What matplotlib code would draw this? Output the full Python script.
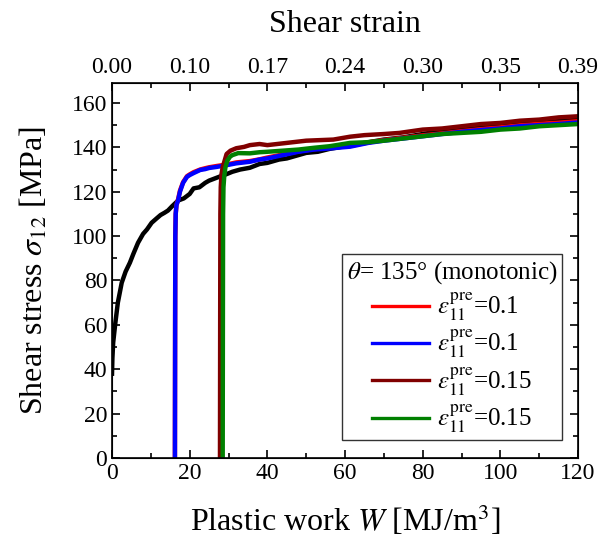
import matplotlib
matplotlib.use("Agg")
import matplotlib.pyplot as plt
from matplotlib.ticker import MultipleLocator

plt.rcParams["font.family"] = ["Liberation Serif", "DejaVu Serif"]
plt.rcParams["mathtext.fontset"] = "stix"

# ── data (W in MJ/m^3, stress in MPa) ─────────────────────────────────────
W_mono = [0, 0.1, 0.3, 0.8, 1.5, 2.5, 3.5, 4.6, 5.5, 6.7, 8, 9, 10.2, 11.5, 12.5,
          13.5, 14.4, 15.5, 17, 18.5, 20, 21, 22.5, 24, 25, 26.5, 28, 29.6, 31, 33,
          35.5, 38, 40, 43, 45, 48, 50, 53, 56, 60, 65, 70, 75, 80, 85, 90, 95,
          100, 105, 110, 115, 120]
S_mono = [38, 45, 52, 60, 70, 79, 84, 88, 92, 97, 101, 103, 106, 108, 109.5,
          110.5, 111.5, 113.5, 116, 117, 119, 121.5, 122, 124, 125, 126, 127, 128,
          129, 130, 130.8, 132.5, 133, 134.5, 135, 136.5, 137.5, 138, 139.3, 140.5,
          142, 143.5, 144.5, 146, 147.5, 148.5, 149.5, 150.5, 151.5, 152, 152.5, 153]

W_red = [16.2, 16.25, 16.3, 16.4, 16.6, 17, 17.5, 18.3, 19.3, 20, 21, 22.7, 24, 25,
         27, 29.6, 32, 35.5, 38, 40, 44, 48, 52, 56, 61.3, 66, 70, 75, 80, 85, 90,
         95, 100, 105, 110, 115, 120]
S_red = [0, 60, 100, 110, 114, 116.5, 120.5, 124.3, 127, 127.8, 128.8, 130, 130.6,
         131, 131.6, 132.3, 133.2, 133.8, 134.6, 135.4, 136.8, 138.2, 139.2, 139.9,
         140.6, 142.2, 143.3, 144.3, 145.4, 146.3, 147.3, 148.2, 149, 149.9, 150.6,
         151.1, 151.8]

W_blue = [16.2, 16.25, 16.3, 16.4, 16.6, 17, 17.5, 18.3, 19.3, 20, 21, 22.7, 24, 25,
          27, 29.6, 32, 35.5, 38, 40, 44, 48, 52, 56, 61.3, 66, 70, 75, 80, 85, 90,
          95, 100, 105, 110, 115, 120]
S_blue = [0, 60, 100, 110, 114, 116, 120, 124, 126.7, 127.5, 128.4, 129.8, 130.2,
          130.7, 131.2, 132, 132.8, 133.5, 134.5, 135, 136.5, 138, 139, 139.5, 140.3,
          142, 143, 144, 145, 146, 147, 147.8, 148.5, 149.5, 150, 150.5, 151.2]

W_dred = [27.8, 27.85, 27.9, 28.0, 28.2, 28.5, 29, 29.5, 30.5, 32, 34, 35.5, 38, 40,
          45, 50, 57, 61.3, 65, 70, 74, 80, 85, 90, 95, 100, 105, 110, 115, 120]
S_dred = [0, 60, 110, 122, 128, 131, 134, 137, 138.5, 139.6, 140.2, 141, 141.5, 141,
          142, 143, 143.5, 144.8, 145.5, 146, 146.5, 148, 148.5, 149.5, 150.5, 151,
          152, 152.5, 153.5, 154]

W_green = [28.5, 28.55, 28.6, 28.7, 28.9, 29.2, 29.7, 30.4, 31, 32.5, 35.5, 38, 40,
           44, 48, 52, 56, 61.3, 65.6, 70, 75, 80, 85, 90, 95, 100, 105, 110, 115, 120]
S_green = [0, 60, 110, 122, 127, 131, 134, 135.8, 136.5, 137.4, 137.3, 137.8, 138,
           138.5, 139, 139.8, 140.5, 142, 142.3, 143, 144, 145, 146, 146.5, 147, 148,
           148.5, 149.5, 150, 150.5]

LABELS = [r"$\varepsilon_{11}^{\rm pre}$=0.1", r"$\varepsilon_{11}^{\rm pre}$=0.1",
          r"$\varepsilon_{11}^{\rm pre}$=0.15", r"$\varepsilon_{11}^{\rm pre}$=0.15"]
TOP_TICKS = ["0.00", "0.10", "0.17", "0.24", "0.30", "0.35", "0.39"]

fig = plt.figure(figsize=(5.99, 5.41), dpi=100)
ax = fig.add_axes([0.187, 0.1534, 0.778, 0.6932])

LW = 3.2
ax.plot(W_mono, S_mono, color="black", lw=LW)
ax.plot(W_red, S_red, color="#ff0000", lw=LW, label=LABELS[0])
ax.plot(W_blue, S_blue, color="#0000ff", lw=LW, label=LABELS[1])
ax.plot(W_dred, S_dred, color="#800000", lw=LW, label=LABELS[2])
ax.plot(W_green, S_green, color="#008000", lw=LW, label=LABELS[3])

ax.set_xlim(0, 120)
ax.set_ylim(0, 169)
ax.xaxis.set_major_locator(MultipleLocator(20))
ax.xaxis.set_minor_locator(MultipleLocator(10))
ax.yaxis.set_major_locator(MultipleLocator(20))
ax.yaxis.set_minor_locator(MultipleLocator(10))
ax.tick_params(which="both", direction="in", right=True, labelsize=17, width=1.2)
ax.tick_params(which="major", length=6)
ax.tick_params(which="minor", length=3.5)
for s in ax.spines.values():
    s.set_linewidth(1.2)

ax.set_xlabel(r"Plastic work $W$ [MJ/m$^3$]", fontsize=23, labelpad=14)
ax.set_ylabel(r"Shear stress $\sigma_{12}$ [MPa]", fontsize=23, labelpad=16)

top = ax.twiny()
top.set_xlim(0, 120)
top.set_xticks([0, 20, 40, 60, 80, 100, 120])
top.set_xticklabels(TOP_TICKS)
top.xaxis.set_minor_locator(MultipleLocator(10))
top.tick_params(which="both", direction="in", labelsize=17, width=1.2)
top.tick_params(which="major", length=6)
top.tick_params(which="minor", length=3.5)
top.set_xlabel("Shear strain", fontsize=23, labelpad=18)

leg = ax.legend(title=r"$\theta$= 135° (monotonic)", loc="lower right",
                bbox_to_anchor=(0.966, 0.048), borderaxespad=0, fontsize=18,
                title_fontsize=18, frameon=True, fancybox=False, edgecolor="black",
                handlelength=2.3, handletextpad=0.3, labelspacing=0.2,
                borderpad=0.2)
leg.get_frame().set_linewidth(1.0)
for h in leg.get_lines():
    h.set_linewidth(2.4)

fig.savefig("out.png", dpi=100)
